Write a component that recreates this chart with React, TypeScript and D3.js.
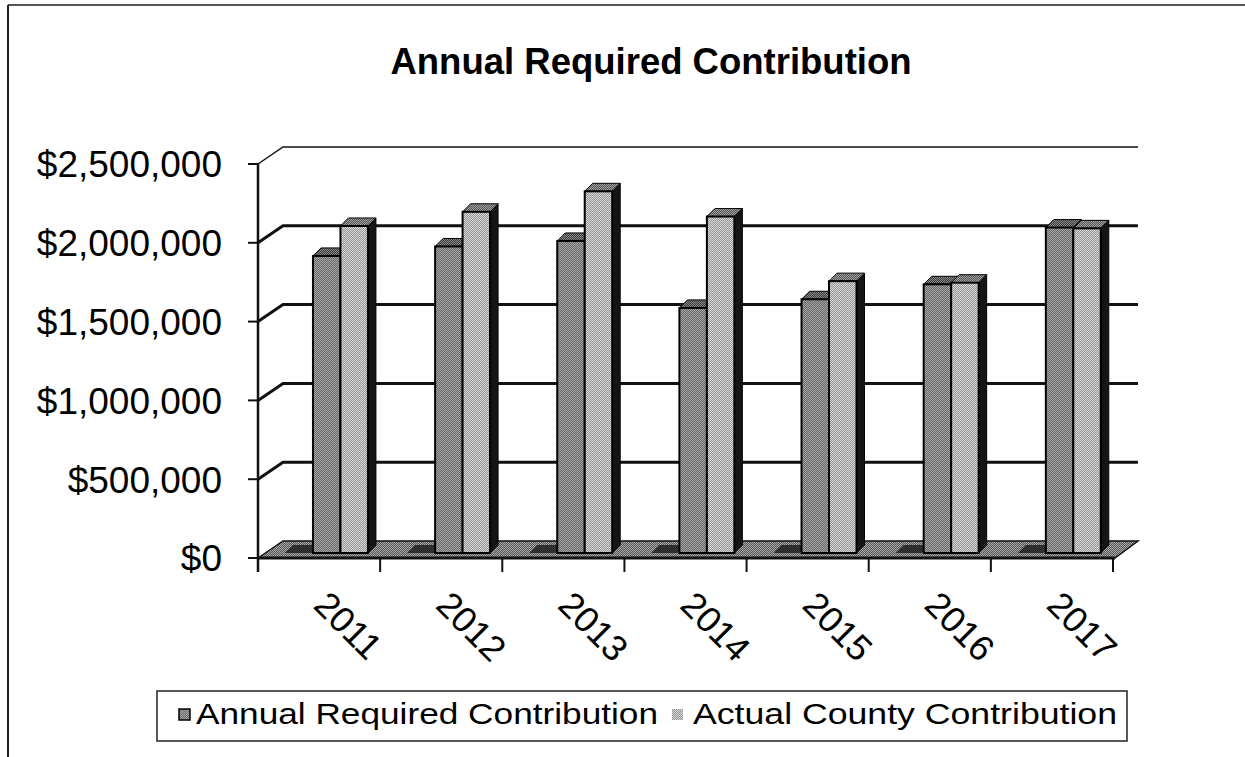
import * as d3 from 'd3';
import React, { useRef, useEffect } from 'react';

const years = ['2011', '2012', '2013', '2014', '2015', '2016', '2017'];
const seriesNames = ['Annual Required Contribution', 'Actual County Contribution'];
const requiredValues = [1885000, 1945000, 1980000, 1555000, 1610000, 1705000, 2065000];
const actualValues = [2075000, 2165000, 2295000, 2135000, 1725000, 1715000, 2060000];
const yTicks = [0, 500000, 1000000, 1500000, 2000000, 2500000];

function App() {
    const ref = useRef(null);
    const width = 1245;
    const height = 757;

    useEffect(() => {
        draw();
    }, []);

    const draw = () => {
        const svg = d3.select(ref.current);
        svg.selectAll('*').remove();

        const font = 'Arial, "Liberation Sans", sans-serif';
        const x0 = 258, x1 = 1113;
        const yBase = 558, yTop = 164;
        const backDx = 25, backDy = -17;
        const wallRight = 1138;
        const depthDx = 8, depthDy = -8;
        const barInset = 5;

        // dithered fills
        const defs = svg.append('defs');
        const dither = (id, a, b) => {
            const p = defs.append('pattern').attr('id', id)
                .attr('width', 2).attr('height', 2)
                .attr('patternUnits', 'userSpaceOnUse');
            p.append('rect').attr('width', 2).attr('height', 2).attr('fill', a);
            p.append('rect').attr('width', 1).attr('height', 1).attr('fill', b);
            p.append('rect').attr('x', 1).attr('y', 1).attr('width', 1).attr('height', 1).attr('fill', b);
        };
        dither('reqFront', '#6a6a6a', '#a4a4a4');
        dither('actFront', '#959595', '#d8d8d8');
        dither('reqTop', '#3a3a3a', '#8a8a8a');
        dither('actTop', '#555555', '#a0a0a0');
        dither('floor', '#555555', '#aaaaaa');

        // page frame
        svg.append('line').attr('x1', 8).attr('y1', 5).attr('x2', width).attr('y2', 5)
            .attr('stroke', '#555').attr('stroke-width', 2);
        svg.append('line').attr('x1', 8).attr('y1', 5).attr('x2', 8).attr('y2', height)
            .attr('stroke', '#222').attr('stroke-width', 2);

        svg.append('text')
            .attr('x', 651).attr('y', 74)
            .attr('text-anchor', 'middle')
            .attr('font-family', font).attr('font-weight', 'bold').attr('font-size', 36.5)
            .text('Annual Required Contribution');

        const y = d3.scaleLinear().domain([0, 2500000]).range([yBase, yTop]);
        const xBand = d3.scaleBand().domain(years).range([x0, x1]);
        const bw = xBand.bandwidth();
        const xSeries = d3.scaleBand().domain(seriesNames).range([bw * 0.45, bw * 0.9]);

        // floor
        const floorPts = [
            [x0, yBase], [x0 + backDx, yBase + backDy],
            [wallRight, yBase + backDy], [x1 + 2, yBase]
        ];
        svg.append('polygon')
            .attr('points', floorPts.map(p => p.join(',')).join(' '))
            .attr('fill', 'url(#floor)').attr('stroke', '#111').attr('stroke-width', 1.5);

        // gridlines on back wall
        yTicks.filter(t => t > 0).forEach(t => {
            const yy = y(t);
            svg.append('path')
                .attr('d', `M${x0},${yy} L${x0 + backDx},${yy + backDy} L${wallRight},${yy + backDy}`)
                .attr('fill', 'none').attr('stroke', '#111')
                .attr('stroke-width', t === 2500000 ? 1.5 : 3);
        });

        // y axis
        svg.append('line').attr('x1', x0).attr('y1', yTop).attr('x2', x0).attr('y2', yBase + 14)
            .attr('stroke', '#111').attr('stroke-width', 2.5);
        yTicks.forEach(t => {
            svg.append('line').attr('x1', x0 - 10).attr('x2', x0)
                .attr('y1', y(t)).attr('y2', y(t))
                .attr('stroke', '#111').attr('stroke-width', 2);
            svg.append('text')
                .attr('x', 222).attr('y', y(t)).attr('dy', '0.36em')
                .attr('text-anchor', 'end')
                .attr('font-family', font).attr('font-size', 37)
                .text(d3.format('$,')(t));
        });

        // floor shadows in front of each pair
        years.forEach(yr => {
            const sx = xBand(yr) + 27;
            const sy = yBase - barInset;
            svg.append('polygon')
                .attr('points', [[sx, sy], [sx + 26, sy], [sx + 26 + depthDx, sy + depthDy], [sx + depthDx, sy + depthDy]]
                    .map(p => p.join(',')).join(' '))
                .attr('fill', '#1a1a1a').attr('opacity', 0.8);
        });

        // 3d bars
        const series = [
            { name: seriesNames[0], values: requiredValues, front: 'url(#reqFront)', top: 'url(#reqTop)' },
            { name: seriesNames[1], values: actualValues, front: 'url(#actFront)', top: 'url(#actTop)' }
        ];
        years.forEach((yr, i) => {
            series.forEach(s => {
                const bx = xBand(yr) + xSeries(s.name);
                const w = xSeries.bandwidth();
                const by = y(s.values[i]) - barInset;
                const bb = yBase - barInset;
                const g = svg.append('g');
                g.append('polygon')
                    .attr('points', [[bx + w, by], [bx + w + depthDx, by + depthDy], [bx + w + depthDx, bb + depthDy], [bx + w, bb]]
                        .map(p => p.join(',')).join(' '))
                    .attr('fill', '#151515').attr('stroke', '#000').attr('stroke-width', 1);
                g.append('polygon')
                    .attr('points', [[bx, by], [bx + depthDx, by + depthDy], [bx + w + depthDx, by + depthDy], [bx + w, by]]
                        .map(p => p.join(',')).join(' '))
                    .attr('fill', s.top).attr('stroke', '#000').attr('stroke-width', 1);
                g.append('rect')
                    .attr('x', bx).attr('y', by).attr('width', w).attr('height', bb - by)
                    .attr('fill', s.front).attr('stroke', '#000').attr('stroke-width', 2);
            });
        });

        // front floor edge and category ticks
        svg.append('line').attr('x1', x0).attr('y1', yBase).attr('x2', x1 + 2).attr('y2', yBase)
            .attr('stroke', '#111').attr('stroke-width', 3);
        years.concat(['end']).forEach((yr, i) => {
            const tx = x0 + i * bw;
            svg.append('line').attr('x1', tx).attr('x2', tx).attr('y1', yBase).attr('y2', yBase + 14)
                .attr('stroke', '#111').attr('stroke-width', 2);
        });
        years.forEach(yr => {
            const cx = xBand(yr) + bw / 2 - 7;
            svg.append('text')
                .attr('transform', `translate(${cx},${607}) rotate(45)`)
                .attr('font-family', font).attr('font-size', 36)
                .text(yr);
        });

        // legend
        const legend = svg.append('g');
        legend.append('rect').attr('x', 157).attr('y', 691).attr('width', 970).attr('height', 50)
            .attr('fill', 'none').attr('stroke', '#222').attr('stroke-width', 1.5);
        const legendItems = [
            { name: seriesNames[0], fill: 'url(#reqFront)', kx: 179, tx: 196, len: 462 },
            { name: seriesNames[1], fill: 'url(#actFront)', kx: 672, tx: 693, len: 424 }
        ];
        legendItems.forEach(it => {
            legend.append('rect').attr('x', it.kx).attr('y', 709).attr('width', 11).attr('height', 11)
                .attr('fill', it.fill).attr('stroke', it.kx === 179 ? '#000' : 'none').attr('stroke-width', 1.5);
            legend.append('text')
                .attr('x', it.tx).attr('y', 724)
                .attr('font-family', font).attr('font-size', 30)
                .attr('textLength', it.len).attr('lengthAdjust', 'spacingAndGlyphs')
                .text(it.name);
        });
    };

    return (
        <div className="chart">
            <svg ref={ref} width={width} height={height}
                style={{ position: 'absolute', left: 0, top: 0, background: '#fff' }}>
            </svg>
        </div>
    );
}

export default App;
